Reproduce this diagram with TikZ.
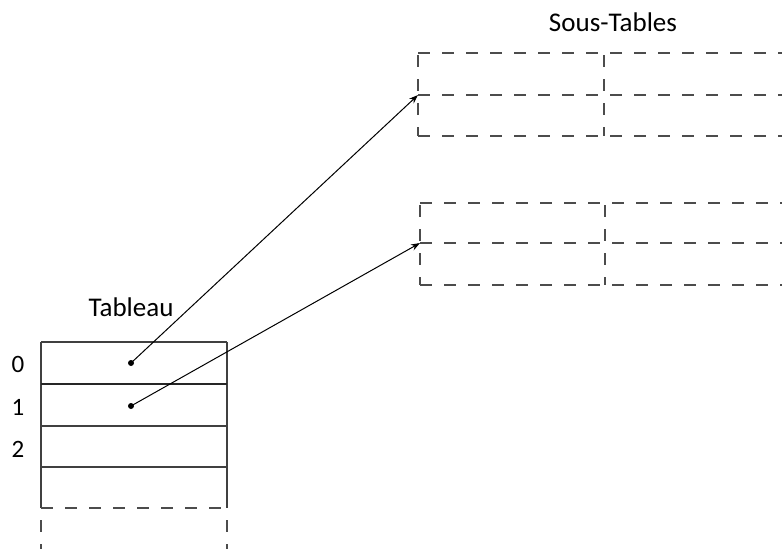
\documentclass[tikz,border=0pt]{standalone}
\usepackage{fontspec}
\setmainfont{Carlito}
\usetikzlibrary{arrows.meta}
\tikzset{
  line/.style={draw=black!75, line width=1.2pt},
  dashline/.style={draw=black!70, line width=1.2pt, dash pattern=on 12pt off 12pt},
  ptr/.style={draw=black, line width=1pt, -{Stealth[length=9pt,width=6.5pt]}},
  dot/.style={circle, fill=black, inner sep=0pt, minimum size=6pt},
  title/.style={font=\fontsize{27}{30}\selectfont, anchor=base, inner sep=0pt},
  idx/.style={font=\fontsize{25}{28}\selectfont, anchor=base, inner sep=0pt},
}
\begin{document}
\begin{tikzpicture}[x=1pt,y=-1pt]
\useasboundingbox (0,0) rectangle (782,549);

% ---- Tableau ----
\node[title] (ttab) at (131,316) {Tableau};
\coordinate (t0) at (41,342);
\coordinate (t1) at (41,384);
\coordinate (t2) at (41,426);
\coordinate (t3) at (41,467);
\coordinate (t4) at (41,508);
\coordinate (r0) at (227,342);
\coordinate (r1) at (227,384);
\coordinate (r2) at (227,426);
\coordinate (r3) at (227,467);
\coordinate (r4) at (227,508);
\coordinate (b0) at (41,549);
\coordinate (b1) at (227,549);
\path[line] (t0) -- (r0) (t2) -- (r2) (t3) -- (r3) (t0) -- (t4) (r0) -- (r4);
\path[line, line width=2pt, draw=black!85] (t1) -- (r1);
\path[dashline] (t4) -- (r4);
\path[dashline, dash phase=-12pt] (t4) -- (b0) (r4) -- (b1);

\node[idx] (i0) at (18,372) {0};
\node[idx] (i1) at (18,415) {1};
\node[idx] (i2) at (18,457) {2};

\node[dot] (p0) at (131,363) {};
\node[dot] (p1) at (131,406) {};

% ---- Sous-Tables ----
\node[title] (tsous) at (613,31) {Sous-Tables};

% upper sub-table
\coordinate (a0) at (418,53);
\coordinate (a1) at (418,95);
\coordinate (a2) at (418,136);
\coordinate (ae0) at (790,53);
\coordinate (ae1) at (790,95);
\coordinate (ae2) at (790,136);
\coordinate (am0) at (604,53);
\coordinate (am2) at (604,136);
\path[dashline] (a0) -- (ae0) (a1) -- (ae1) (a2) -- (ae2);
\path[dashline, dash phase=-2pt] (a0) -- (a2) (am0) -- (am2);

% lower sub-table
\coordinate (c0) at (420,203);
\coordinate (c1) at (420,243);
\coordinate (c2) at (420,285);
\coordinate (ce0) at (790,203);
\coordinate (ce1) at (790,243);
\coordinate (ce2) at (790,285);
\coordinate (cm0) at (605,203);
\coordinate (cm2) at (605,285);
\path[dashline] (c0) -- (ce0) (c1) -- (ce1) (c2) -- (ce2);
\path[dashline, dash phase=-2pt] (c0) -- (c2) (cm0) -- (cm2);

% ---- pointers ----
\path[ptr] (p0.center) -- (a1);
\path[ptr] (p1.center) -- (c1);
\end{tikzpicture}
\end{document}
